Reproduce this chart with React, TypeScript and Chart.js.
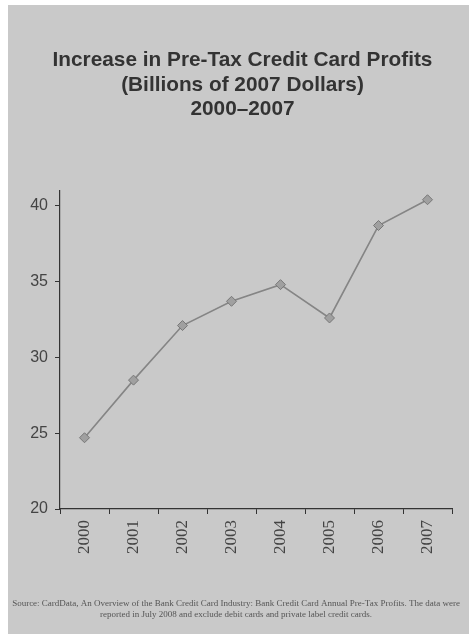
import React, { useEffect, useRef } from "react";
import { Chart, registerables } from "chart.js";

Chart.register(...registerables);

const years = ["2000", "2001", "2002", "2003", "2004", "2005", "2006", "2007"];
const profits = [24.7, 28.5, 32.1, 33.7, 34.8, 32.6, 38.7, 40.4];
const yTickValues = [20, 25, 30, 35, 40];
const titleLines = [
  "Increase in Pre-Tax Credit Card Profits",
  "(Billions of 2007 Dollars)",
  "2000\u20132007",
];
const sourceLines = [
  "Source: CardData, An Overview of the Bank Credit Card Industry: Bank Credit Card Annual Pre-Tax Profits. The data were",
  "reported in July 2008 and exclude debit cards and private label credit cards.",
];

const footnotePlugin = {
  id: "footnote",
  afterDraw(chart: any) {
    const ctx = chart.ctx;
    ctx.save();
    ctx.fillStyle = "#555";
    ctx.font = "9px 'Liberation Serif'";
    ctx.textAlign = "center";
    ctx.textBaseline = "middle";
    const cx = 228;
    sourceLines.forEach((line, i) => {
      ctx.fillText(line, cx, 599 + i * 11);
    });
    ctx.restore();
  },
};

export default function App() {
  const ref = useRef<HTMLCanvasElement | null>(null);
  useEffect(() => {
    if (!ref.current) return;
    const chart = new Chart(ref.current, {
      type: "line",
      data: {
        labels: years,
        datasets: [
          {
            data: profits,
            borderColor: "#858585",
            borderWidth: 1.6,
            pointStyle: "rectRot",
            pointRadius: 5,
            pointBackgroundColor: "#a0a0a0",
            pointBorderColor: "#777",
            pointBorderWidth: 1,
            tension: 0,
            yAxisID: "y",
          },
        ],
      },
      plugins: [footnotePlugin],
      options: {
        responsive: false,
        animation: false,
        layout: { padding: { left: 0, right: 0, top: 0, bottom: 65 } },
        plugins: {
          legend: { display: false },
          tooltip: { enabled: false },
          title: {
            display: true,
            text: titleLines,
            color: "#333",
            font: { family: "Liberation Sans", size: 20.8, weight: "bold", lineHeight: 1.18 },
            padding: { top: 43, bottom: 69 },
          },
        },
        scales: {
          x: {
            type: "category",
            offset: true,
            border: { display: true, color: "#333", width: 1.2 },
            grid: {
              display: true,
              offset: true,
              drawOnChartArea: false,
              drawTicks: true,
              tickLength: 5,
              color: "#333",
            },
            ticks: {
              minRotation: 90,
              maxRotation: 90,
              padding: 6,
              color: "#444",
              font: { family: "Liberation Serif", size: 17 },
            },
            afterFit: (s: any) => {
              s.height = 60;
            },
          },
          y: {
            min: 20,
            max: 41,
            border: { display: true, color: "#333", width: 1.2 },
            grid: {
              display: true,
              drawOnChartArea: false,
              drawTicks: true,
              tickLength: 5,
              color: "#333",
            },
            ticks: {
              padding: 7,
              color: "#444",
              font: { family: "Liberation Sans", size: 16 },
            },
            afterBuildTicks: (s: any) => {
              s.ticks = yTickValues.map((v) => ({ value: v }));
            },
            afterFit: (s: any) => {
              s.width = 52;
            },
          },
          yr: {
            position: "right",
            display: true,
            min: 20,
            max: 41,
            border: { display: false },
            grid: { display: false, drawTicks: false },
            ticks: { display: false },
            afterFit: (s: any) => {
              s.width = 25;
            },
          },
        },
      },
    });
    return () => chart.destroy();
  }, []);
  return (
    <div
      style={{
        position: "absolute",
        left: 8,
        top: 5,
        width: 461,
        height: 629,
        background: "#c9c9c9",
        overflow: "hidden",
      }}
    >
      <canvas ref={ref} width={469} height={629} style={{ display: "block" }} />
    </div>
  );
}
